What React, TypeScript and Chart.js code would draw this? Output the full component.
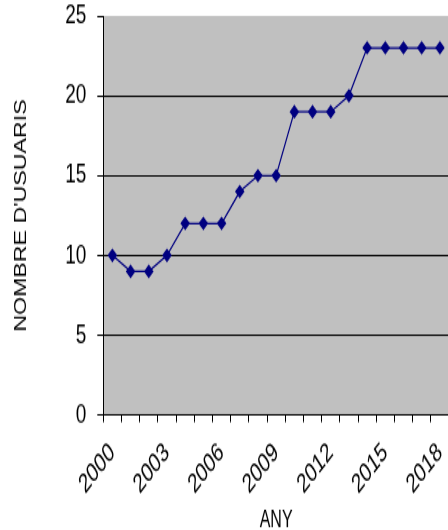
import React, { useEffect, useRef } from "react";
import { Chart, registerables } from "chart.js";

Chart.register(...registerables);

const years: string[] = [
  "2000", "2001", "2002", "2003", "2004", "2005", "2006", "2007", "2008", "2009",
  "2010", "2011", "2012", "2013", "2014", "2015", "2016", "2017", "2018",
];
const users: number[] = [10, 9, 9, 10, 12, 12, 12, 14, 15, 15, 19, 19, 19, 20, 23, 23, 23, 23, 23];
const shownYearLabels: string[] = ["2000", "2003", "2006", "2009", "2012", "2015", "2018"];
const yTicks: number[] = [0, 5, 10, 15, 20, 25];

const xTitle = "ANY";
const yTitle = "NOMBRE D'USUARIS";

const FONT = "'Liberation Sans', Arial, sans-serif";
const STRETCH = 1.448;
const CW = 470;
const CH = 369;

const plotBg = {
  id: "plotBg",
  beforeDraw(chart: any) {
    const { ctx, chartArea } = chart;
    ctx.save();
    ctx.fillStyle = "#ffffff";
    ctx.fillRect(0, 0, chart.width, chart.height);
    ctx.fillStyle = "#C0C0C0";
    ctx.fillRect(chartArea.left, chartArea.top, chartArea.right - chartArea.left, chartArea.bottom - chartArea.top);
    ctx.restore();
  },
};

export default function App() {
  const ref = useRef<HTMLCanvasElement | null>(null);
  useEffect(() => {
    if (!ref.current) return;
    const chart = new Chart(ref.current, {
      type: "line",
      data: {
        labels: years,
        datasets: [
          {
            data: users,
            borderColor: "#000080",
            backgroundColor: "#000080",
            borderWidth: 1.2,
            pointStyle: "rectRot",
            pointRadius: 4.8,
            pointBackgroundColor: "#000080",
            pointBorderColor: "#000080",
            pointBorderWidth: 0,
            tension: 0,
          },
        ],
      },
      plugins: [plotBg],
      options: {
        animation: false,
        responsive: false,
        devicePixelRatio: 1,
        layout: { padding: { top: 11, right: 21, bottom: 0, left: 0 } },
        plugins: { legend: { display: false }, tooltip: { enabled: false }, title: { display: false } },
        scales: {
          x: {
            type: "category",
            offset: true,
            afterFit(scale: any) {
              scale.height = 82.4;
              scale.paddingLeft = 0;
              scale.paddingRight = 0;
            },
            grid: { offset: true, drawOnChartArea: false, color: "#000", tickLength: 5, lineWidth: 1 },
            border: { color: "#000", width: 1 },
            ticks: {
              autoSkip: false,
              maxRotation: 42,
              minRotation: 42,
              padding: 10,
              color: "#000",
              font: { family: FONT, size: 18.5 },
              callback: (_v: any, i: number) => (shownYearLabels.includes(years[i]) ? years[i] : ""),
            },
            title: {
              display: true,
              text: xTitle,
              color: "#000",
              font: { family: FONT, size: 16 },
              padding: { top: 0, bottom: 0 },
            },
          },
          y: {
            min: 0,
            max: 25,
            afterFit(scale: any) {
              scale.width = 103.3;
              scale.paddingTop = 0;
              scale.paddingBottom = 0;
            },
            afterBuildTicks(scale: any) {
              scale.ticks = yTicks.map((v) => ({ value: v }));
            },
            grid: {
              color: (c: any) => (c.tick && (c.tick.value === 25 || c.tick.value === 0) ? "rgba(0,0,0,0)" : "#000"),
              tickColor: "#000",
              tickLength: 6,
              lineWidth: 1,
            },
            border: { color: "#000", width: 1 },
            ticks: {
              padding: 11,
              color: "#000",
              font: { family: FONT, size: 19 },
            },
            title: {
              display: true,
              text: yTitle,
              color: "#000",
              font: { family: FONT, size: 16 },
              padding: { top: 12, bottom: 0 },
            },
          },
        },
      },
    } as any);
    return () => chart.destroy();
  }, []);

  return (
    <div style={{ position: "absolute", left: 0, top: 0, width: 448, height: 530, overflow: "hidden", background: "#fff" }}>
      <div style={{ width: CW, height: CH, transform: `scale(1, ${STRETCH})`, transformOrigin: "0 0" }}>
        <canvas ref={ref} width={CW} height={CH} />
      </div>
    </div>
  );
}
